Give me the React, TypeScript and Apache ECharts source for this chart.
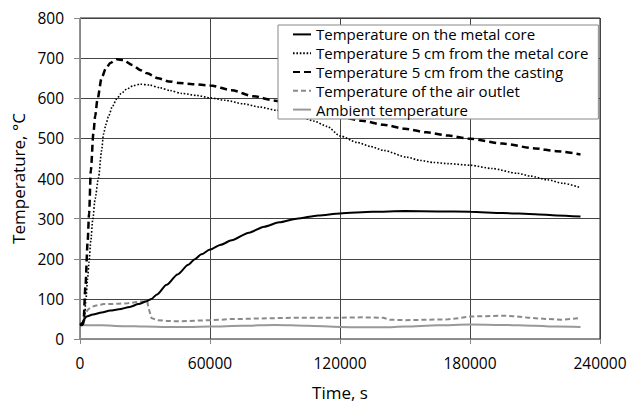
import React, { useEffect, useRef } from "react";
import * as echarts from "echarts";

// ---- Data ----
const xTicks = [0, 60000, 120000, 180000, 240000];
const yTicks = [0, 100, 200, 300, 400, 500, 600, 700, 800];

const seriesNames = [
  "Temperature on the metal core",
  "Temperature 5 cm from the metal core",
  "Temperature 5 cm from the casting",
  "Temperature of the air outlet",
  "Ambient temperature",
];

const coreTime = [0, 1000, 2000, 3000, 6000, 10000, 14000, 18000, 23000, 27000, 31000, 33000, 35500, 40000, 45000, 50000, 53000, 56000, 60000, 65000, 70000, 78000, 85000, 92000, 100000, 110000, 120000, 135000, 150000, 165000, 180000, 195000, 210000, 220000, 231000];
const coreTemp = [35, 40, 50, 56, 61, 66, 71, 74, 80, 87, 95, 100, 111, 135, 161, 185, 199, 211, 223, 235, 246, 265, 280, 291, 300, 308, 313, 317, 319, 318, 317, 314, 311, 308, 305];

const nearCoreTime = [0, 1000, 2000, 2770, 3500, 4160, 5000, 5860, 7000, 8500, 10000, 10800, 12000, 13100, 15000, 16900, 19000, 21600, 24500, 27700, 32000, 37000, 41600, 47000, 53900, 60000, 67000, 75500, 83000, 90900, 96000, 101600, 108000, 114000, 120100, 127800, 134000, 140100, 150900, 157000, 163200, 170000, 180200, 190000, 201800, 208000, 215600, 223000, 231000];
const nearCoreTemp = [35, 36, 45, 100, 150, 192, 245, 296, 350, 401, 470, 510, 535, 554, 580, 598, 612, 623, 631, 635, 633, 626, 619, 612, 607, 601, 595, 586, 578, 570, 563, 554, 543, 530, 506, 490, 480, 470, 453, 445, 440, 437, 433, 425, 413, 406, 397, 388, 377];

const castingTime = [0, 1000, 1600, 2500, 3500, 4200, 5000, 6200, 7000, 8000, 10000, 12000, 14000, 17000, 20000, 24000, 28000, 31000, 36000, 41000, 46000, 52000, 60000, 70000, 80000, 90000, 100000, 110000, 120000, 130000, 140000, 150000, 160000, 170000, 180000, 195000, 210000, 220000, 231000];
const castingTemp = [35, 35, 40, 130, 240, 313, 420, 514, 555, 595, 651, 675, 688, 697, 695, 683, 670, 662, 650, 642, 638, 635, 632, 620, 605, 594, 579, 566, 554, 544, 534, 524, 515, 507, 499, 487, 475, 468, 460];

const outletTime = [0, 1000, 1500, 2300, 3500, 5000, 7000, 9000, 11000, 14000, 18000, 22000, 26000, 30000, 31000, 31500, 33000, 36000, 40000, 45000, 50000, 55000, 60000, 65000, 70000, 75000, 80000, 90000, 100000, 110000, 120000, 130000, 140000, 143000, 150000, 160000, 170000, 175000, 180000, 187000, 195000, 200000, 207000, 215000, 222000, 227000, 231000];
const outletTemp = [35, 36, 45, 63, 72, 79, 83, 85, 87, 87, 88, 89, 92, 95, 96, 80, 52, 47, 45, 44, 45, 46, 47, 48, 50, 50, 51, 52, 53, 53, 53, 54, 53, 48, 47, 48, 49, 52, 56, 57, 58, 57, 53, 50, 48, 50, 52];

const ambientTime = [0, 10000, 20000, 30000, 40000, 50000, 60000, 75000, 90000, 105000, 120000, 130000, 140000, 150000, 165000, 180000, 195000, 210000, 220000, 231000];
const ambientTemp = [35, 34, 32, 31, 30, 30, 31, 33, 35, 33, 30, 29, 29, 31, 34, 36, 35, 33, 31, 30];

const pair = (t: number[], v: number[]) => t.map((x, i) => [x, v[i]]);

const FONT = "'Open Sans', sans-serif";

export default function App() {
  const ref = useRef<HTMLDivElement>(null);
  useEffect(() => {
    if (!ref.current) return;
    const chart = echarts.init(ref.current, undefined, { renderer: "svg" });
    const mk = (name: string, data: number[][], color: string, width: number, type: any, smooth: number) => ({
      name,
      type: "line",
      data,
      symbol: "none",
      showSymbol: false,
      smooth,
      smoothMonotone: "x",
      lineStyle: { color, width, type, cap: "butt" },
      itemStyle: { color },
    });
    chart.setOption({
      animation: false,
      backgroundColor: "#fff",
      textStyle: { fontFamily: FONT },
      grid: {
        left: 80,
        top: 18,
        width: 520,
        height: 331,
        show: true,
        borderColor: "#222",
        borderWidth: 1,
        backgroundColor: "transparent",
      },
      legend: {
        orient: "vertical",
        left: 278,
        top: 25,
        width: 317,
        padding: [0, 10, 0, 14],
        itemGap: 0,
        itemWidth: 18,
        itemHeight: 10,
        backgroundColor: "#fff",
        borderColor: "#888",
        borderWidth: 1,
        borderRadius: 0,
        itemStyle: { opacity: 0 },
        data: seriesNames,
        textStyle: { fontFamily: FONT, fontSize: 15, color: "#000", lineHeight: 18.8 },
      },
      xAxis: {
        type: "value",
        min: xTicks[0],
        max: xTicks[xTicks.length - 1],
        interval: xTicks[1] - xTicks[0],
        name: "Time, s",
        nameLocation: "middle",
        nameGap: 45,
        nameTextStyle: { fontFamily: FONT, fontSize: 17, color: "#000" },
        axisLine: { show: true, lineStyle: { color: "#888", width: 1 } },
        axisTick: { show: true, inside: false, length: 5, lineStyle: { color: "#888" } },
        axisLabel: { fontFamily: FONT, fontSize: 15.5, color: "#000", margin: 16, formatter: (v: number) => String(v) },
        splitLine: { show: true, lineStyle: { color: "#444", width: 1 } },
      },
      yAxis: {
        type: "value",
        min: yTicks[0],
        max: yTicks[yTicks.length - 1],
        interval: yTicks[1] - yTicks[0],
        name: "Temperature, °C",
        nameLocation: "middle",
        nameRotate: 90,
        nameGap: 48,
        nameTextStyle: { fontFamily: FONT, fontSize: 17, color: "#000" },
        axisLine: { show: true, lineStyle: { color: "#888", width: 1 } },
        axisTick: { show: true, inside: false, length: 6, lineStyle: { color: "#888" } },
        axisLabel: { fontFamily: FONT, fontSize: 15.5, color: "#000", margin: 16, formatter: (v: number) => String(v) },
        splitLine: { show: true, lineStyle: { color: "#444", width: 1 } },
      },
      series: [
        mk(seriesNames[4], pair(ambientTime, ambientTemp), "#999999", 2, "solid", 0.3),
        mk(seriesNames[3], pair(outletTime, outletTemp), "#8a8a8a", 2, [5, 3], 0),
        mk(seriesNames[1], pair(nearCoreTime, nearCoreTemp), "#000000", 1.6, [1.6, 1.8], 0.25),
        mk(seriesNames[2], pair(castingTime, castingTemp), "#000000", 2.5, [7, 4], 0.25),
        mk(seriesNames[0], pair(coreTime, coreTemp), "#000000", 2, "solid", 0.25),
      ],
    });
    return () => chart.dispose();
  }, []);
  return (
    <div
      ref={ref}
      style={{ position: "fixed", left: 0, top: 0, width: 631, height: 406, background: "#fff" }}
    />
  );
}
